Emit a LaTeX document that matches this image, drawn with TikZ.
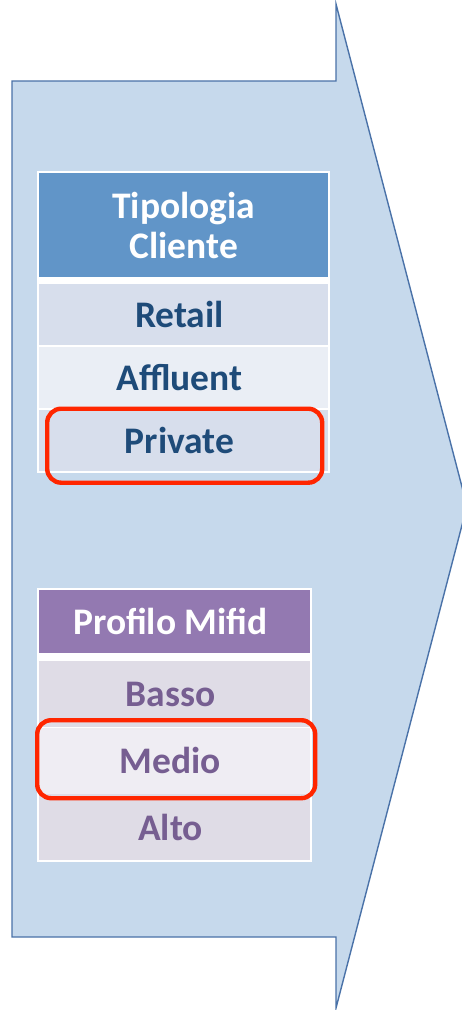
\documentclass[tikz,border=0pt]{standalone}
\usepackage{fontspec}
\setmainfont{Carlito}
\usetikzlibrary{matrix}
\definecolor{arrowfill}{HTML}{C6D9EC}
\definecolor{arrowline}{HTML}{4A72A8}
\definecolor{tiphead}{HTML}{6195C8}
\definecolor{tipdark}{HTML}{D7DEEC}
\definecolor{tiplight}{HTML}{EAEEF5}
\definecolor{tiptext}{HTML}{1E4B79}
\definecolor{mifhead}{HTML}{9379B1}
\definecolor{mifdark}{HTML}{DFDCE6}
\definecolor{miflight}{HTML}{EFEDF3}
\definecolor{miftext}{HTML}{765E91}
\definecolor{selred}{HTML}{FF2600}

\begin{document}
\begin{tikzpicture}[x=1pt, y=-1pt,
		cell/.style={inner sep=0pt, align=center, font=\fontsize{37.5}{40}\selectfont\bfseries},
		sel/.style={draw=selred, line width=4.4pt, rounded corners=14pt, inner sep=0pt}]
		\useasboundingbox (0,0) rectangle (462,1010);
		\draw[fill=arrowfill, draw=arrowline, line width=1.4pt]
		(12,81) -- (336,81) -- (336,4) -- (467,506) -- (336,1008) -- (336,937) -- (12,937) -- cycle;
		\matrix (tip) [matrix of nodes, anchor=north west, fill=white, inner sep=2pt, row sep=2pt,
		nodes={cell, minimum width=289pt, minimum height=61pt, text=tiptext},
		row 1/.style={nodes={fill=tiphead, text=white, minimum height=104pt, text width=180pt}},
		row 2/.style={nodes={fill=tipdark}},
		row 3/.style={nodes={fill=tiplight}},
		row 4/.style={nodes={fill=tipdark}}] at (37,171)
		{
			Tipologia Cliente \\[5pt]
			Retail \\
			Affluent \\
			Private \\
		};
		\matrix (mif) [matrix of nodes, anchor=north west, fill=white, inner sep=2pt, row sep=0.5pt,
		nodes={cell, minimum width=271pt, minimum height=66pt, text=miftext},
		row 1/.style={nodes={fill=mifhead, text=white, minimum height=63pt}},
		row 2/.style={nodes={fill=mifdark}},
		row 3/.style={nodes={fill=miflight}},
		row 4/.style={nodes={fill=mifdark}}] at (37,588)
		{
			Profilo Mifid \\[7.5pt]
			Basso \\
			Medio \\
			Alto \\
		};
		\node[sel, minimum width=275pt, minimum height=74pt] (selA) at ([xshift=1pt, yshift=-5pt]tip-4-1) {};
		\node[sel, minimum width=278pt, minimum height=78pt] (selB) at ([xshift=1.5pt, yshift=1.5pt]mif-3-1) {};
	\end{tikzpicture}
\end{document}
